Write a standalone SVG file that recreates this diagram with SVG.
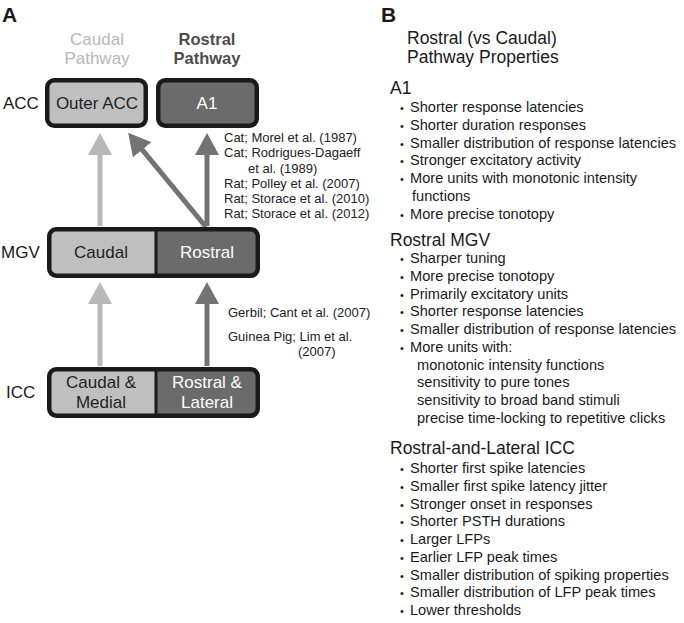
<svg xmlns="http://www.w3.org/2000/svg" width="684" height="623" viewBox="0 0 684 623">
<style>
text{font-family:"Liberation Sans",Arial,sans-serif;}
.lbl{font-size:17px;fill:#1a1a1a;}
.panel{font-size:21px;font-weight:bold;fill:#1a1a1a;}
.nt{font-size:17px;text-anchor:middle;}
.dk{fill:#1f1f1f;}
.wt{fill:#ffffff;}
.box{stroke:#1a1a1a;stroke-width:4.5;}
.lf{fill:#bfbfbf;}
.df{fill:#6b6b6b;}
.cit{font-size:13px;fill:#222;}
.tt{font-size:17.5px;fill:#1a1a1a;}
.hd{font-size:17.5px;fill:#1a1a1a;}
.it{font-size:14.6px;fill:#1a1a1a;}
.bl{font-size:11px;fill:#1a1a1a;}
.la{stroke:#b9b9b9;stroke-width:5;fill:none;}
.da{stroke:#737373;stroke-width:5;fill:none;}
</style>
<defs>
<marker id="hl" viewBox="0 0 22 24" refX="2" refY="12" markerWidth="22" markerHeight="24" markerUnits="userSpaceOnUse" orient="auto"><path d="M0,0 L22,12 L0,24 z" fill="#b9b9b9"/></marker>
<marker id="hd" viewBox="0 0 22 24" refX="2" refY="12" markerWidth="22" markerHeight="24" markerUnits="userSpaceOnUse" orient="auto"><path d="M0,0 L22,12 L0,24 z" fill="#737373"/></marker>
</defs>
<rect width="684" height="623" fill="#ffffff"/>

<g id="panelA-labels">
<text class="panel" x="2" y="22">A</text>
<text x="97" y="45" font-size="17" fill="#b8b8b8" text-anchor="middle">Caudal</text>
<text x="97" y="64" font-size="17" fill="#b8b8b8" text-anchor="middle">Pathway</text>
<text x="207" y="45" font-size="16.5" font-weight="bold" fill="#4d4d4d" text-anchor="middle">Rostral</text>
<text x="207" y="64" font-size="16.5" font-weight="bold" fill="#4d4d4d" text-anchor="middle">Pathway</text>
<text class="lbl" x="3" y="109">ACC</text>
<text class="lbl" x="1" y="258">MGV</text>
<text class="lbl" x="6" y="398">ICC</text>
</g>

<g id="connectors">
<line class="la" x1="100" y1="226" x2="100" y2="153" marker-end="url(#hl)"/>
<line class="da" x1="207" y1="226" x2="207" y2="153" marker-end="url(#hd)"/>
<line class="da" x1="206" y1="227" x2="140.9" y2="148.2" marker-end="url(#hd)"/>
<line class="la" x1="100" y1="366" x2="100" y2="302" marker-end="url(#hl)"/>
<line class="da" x1="207" y1="366" x2="207" y2="302" marker-end="url(#hd)"/>
</g>

<g id="node-outer-acc">
<rect class="box lf" x="47.25" y="80.25" width="98.5" height="45.5" rx="7"/>
<text class="nt dk" x="97" y="109">Outer ACC</text>
</g>
<g id="node-a1">
<rect class="box df" x="158.25" y="80.25" width="98.5" height="45.5" rx="7"/>
<text class="nt wt" x="207" y="109">A1</text>
</g>

<g id="node-mgv">
<path class="lf" d="M56,229 H156 V276 H56 Q49,276 49,269 V236 Q49,229 56,229 z"/>
<path class="df" d="M156,229 H251 Q258,229 258,236 V269 Q258,276 251,276 H156 z"/>
<rect x="49.25" y="229.25" width="208.5" height="46.5" rx="7" fill="none" stroke="#1a1a1a" stroke-width="4.5"/>
<line x1="156" y1="229" x2="156" y2="276" stroke="#1a1a1a" stroke-width="3"/>
<text class="nt dk" x="101" y="258">Caudal</text>
<text class="nt wt" x="207" y="258">Rostral</text>
</g>

<g id="node-icc">
<path class="lf" d="M56,369 H156 V416 H56 Q49,416 49,409 V376 Q49,369 56,369 z"/>
<path class="df" d="M156,369 H251 Q258,369 258,376 V409 Q258,416 251,416 H156 z"/>
<rect x="49.25" y="369.25" width="208.5" height="46.5" rx="7" fill="none" stroke="#1a1a1a" stroke-width="4.5"/>
<line x1="156" y1="369" x2="156" y2="416" stroke="#1a1a1a" stroke-width="3"/>
<text class="nt dk" x="101" y="388">Caudal &amp;</text>
<text class="nt dk" x="101" y="408">Medial</text>
<text class="nt wt" x="207" y="388">Rostral &amp;</text>
<text class="nt wt" x="207" y="408">Lateral</text>
</g>

<g id="citations">
<text class="cit" x="224" y="142">Cat; Morel et al. (1987)</text>
<text class="cit" x="224" y="157">Cat; Rodrigues-Dagaeff</text>
<text class="cit" x="248" y="173">et al. (1989)</text>
<text class="cit" x="224" y="188">Rat; Polley et al. (2007)</text>
<text class="cit" x="224" y="203">Rat; Storace et al. (2010)</text>
<text class="cit" x="224" y="218">Rat; Storace et al. (2012)</text>
<text class="cit" x="228" y="317">Gerbil; Cant et al. (2007)</text>
<text class="cit" x="228" y="341">Guinea Pig; Lim et al.</text>
<text class="cit" x="298" y="356">(2007)</text>
</g>

<g id="panelB">
<text class="panel" x="381" y="22">B</text>
<text class="tt" x="407" y="44">Rostral (vs Caudal)</text>
<text class="tt" x="407" y="63">Pathway Properties</text>

<text class="hd" x="390" y="94">A1</text>
<g class="bl">
<text x="400" y="112">•</text><text x="400" y="129.75">•</text><text x="400" y="147.5">•</text><text x="400" y="165.25">•</text><text x="400" y="183">•</text><text x="400" y="218.5">•</text>
</g>
<text class="it" x="410" y="112">Shorter response latencies</text>
<text class="it" x="410" y="129.75">Shorter duration responses</text>
<text class="it" x="410" y="147.5">Smaller distribution of response latencies</text>
<text class="it" x="410" y="165.25">Stronger excitatory activity</text>
<text class="it" x="410" y="183">More units with monotonic intensity</text>
<text class="it" x="412" y="200.75">functions</text>
<text class="it" x="410" y="218.5">More precise tonotopy</text>

<text class="hd" x="390" y="246">Rostral MGV</text>
<g class="bl">
<text x="400" y="263">•</text><text x="400" y="280.75">•</text><text x="400" y="298.5">•</text><text x="400" y="316.25">•</text><text x="400" y="334">•</text><text x="400" y="351.75">•</text>
</g>
<text class="it" x="410" y="263">Sharper tuning</text>
<text class="it" x="410" y="280.75">More precise tonotopy</text>
<text class="it" x="410" y="298.5">Primarily excitatory units</text>
<text class="it" x="410" y="316.25">Shorter response latencies</text>
<text class="it" x="410" y="334">Smaller distribution of response latencies</text>
<text class="it" x="410" y="351.75">More units with:</text>
<text class="it" x="417" y="369.5">monotonic intensity functions</text>
<text class="it" x="417" y="387.25">sensitivity to pure tones</text>
<text class="it" x="417" y="405">sensitivity to broad band stimuli</text>
<text class="it" x="417" y="422.75">precise time-locking to repetitive clicks</text>

<text class="hd" x="390" y="454">Rostral-and-Lateral ICC</text>
<g class="bl">
<text x="400" y="473">•</text><text x="400" y="490.75">•</text><text x="400" y="508.5">•</text><text x="400" y="526.25">•</text><text x="400" y="544">•</text><text x="400" y="561.75">•</text><text x="400" y="579.5">•</text><text x="400" y="597.25">•</text><text x="400" y="615">•</text>
</g>
<text class="it" x="410" y="473">Shorter first spike latencies</text>
<text class="it" x="410" y="490.75">Smaller first spike latency jitter</text>
<text class="it" x="410" y="508.5">Stronger onset in responses</text>
<text class="it" x="410" y="526.25">Shorter PSTH durations</text>
<text class="it" x="410" y="544">Larger LFPs</text>
<text class="it" x="410" y="561.75">Earlier LFP peak times</text>
<text class="it" x="410" y="579.5">Smaller distribution of spiking properties</text>
<text class="it" x="410" y="597.25">Smaller distribution of LFP peak times</text>
<text class="it" x="410" y="615">Lower thresholds</text>
</g>
</svg>
